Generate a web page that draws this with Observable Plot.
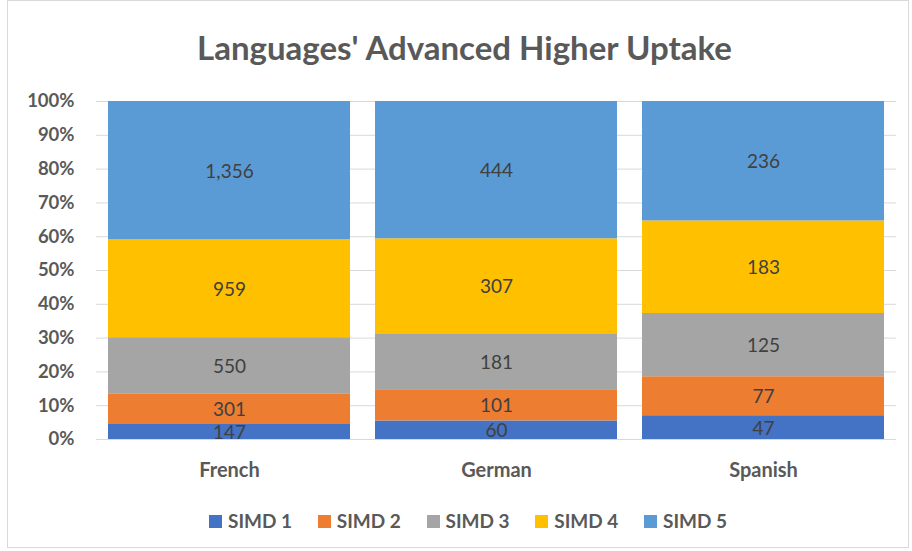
<!DOCTYPE html>
<html>
<head>
<meta charset="utf-8">
<script src="https://cdn.jsdelivr.net/npm/d3@7"></script>
<script src="https://cdn.jsdelivr.net/npm/@observablehq/plot@0.6"></script>
<style>
  body { margin: 0; background: #fff; font-family: Lato, "Open Sans", sans-serif; }
  #frame { position: absolute; left: 7px; top: 0px; width: 902px; height: 548px; border: 1px solid #d9d9d9; box-sizing: border-box; }
  #title { position: absolute; left: 197px; top: 31px; white-space: nowrap; font-size: 33px; line-height: 33px; font-weight: bold; color: #595959; }
  #chart { position: absolute; left: 0; top: 80px; }
  .item { position: absolute; top: 511px; height: 19px; white-space: nowrap; font-size: 19px; line-height: 19px; font-weight: bold; color: #595959; }
  .sw { position: absolute; left: 0; top: 4px; width: 13px; height: 13px; }
  .lab { position: absolute; left: 19px; top: 0; }
</style>
</head>
<body>
<div id="frame"></div>
<div id="title">Languages' Advanced Higher Uptake</div>
<div id="chart"></div>
<div id="legend"></div>
<script>
const languages = ["French", "German", "Spanish"];
const series = ["SIMD 1", "SIMD 2", "SIMD 3", "SIMD 4", "SIMD 5"];
const colors = ["#4472C4", "#ED7D31", "#A5A5A5", "#FFC000", "#5B9BD5"];
const simd1 = [147, 60, 47];
const simd2 = [301, 101, 77];
const simd3 = [550, 181, 125];
const simd4 = [959, 307, 183];
const simd5 = [1356, 444, 236];
const yTicks = [0, 0.1, 0.2, 0.3, 0.4, 0.5, 0.6, 0.7, 0.8, 0.9, 1];

const values = [simd1, simd2, simd3, simd4, simd5];
const data = [];
languages.forEach((lang, i) => {
  series.forEach((s, j) => data.push({lang, simd: s, value: values[j][i]}));
});

const stackOpts = {x: "lang", y: "value", z: "simd", order: series, offset: "normalize"};

const plot = Plot.plot({
  width: 912,
  height: 410,
  marginLeft: 96,
  marginRight: 16,
  marginTop: 21,
  marginBottom: 51,
  style: {fontFamily: "Lato, 'Open Sans', sans-serif", background: "transparent"},
  x: {domain: languages, paddingInner: 0.094, paddingOuter: 0.045, label: null},
  y: {domain: [0, 1], label: null},
  color: {domain: series, range: colors},
  marks: [
    Plot.gridY(yTicks, {stroke: "#d9d9d9", strokeOpacity: 1, strokeWidth: 1}),
    Plot.barY(data, Plot.stackY({...stackOpts, fill: "simd"})),
    Plot.text(data, Plot.stackY({...stackOpts, text: d => d3.format(",")(d.value), fill: "#404040", fontSize: 19, dy: 1})),
    Plot.axisY({ticks: yTicks, tickFormat: d3.format(".0%"), tickSize: 0, tickPadding: 22, fontSize: 18.5, fontWeight: "bold", fill: "#595959", label: null}),
    Plot.axisX({tickSize: 0, tickPadding: 23, fontSize: 20, fontWeight: "bold", fill: "#595959", label: null})
  ]
});
document.getElementById("chart").appendChild(plot);

const legend = document.getElementById("legend");
series.forEach((s, i) => {
  const item = document.createElement("div");
  item.className = "item";
  item.style.left = (209 + i * 108.75) + "px";
  const sw = document.createElement("span");
  sw.className = "sw";
  sw.style.background = colors[i];
  const lab = document.createElement("span");
  lab.className = "lab";
  lab.textContent = s;
  item.appendChild(sw);
  item.appendChild(lab);
  legend.appendChild(item);
});
</script>
</body>
</html>
